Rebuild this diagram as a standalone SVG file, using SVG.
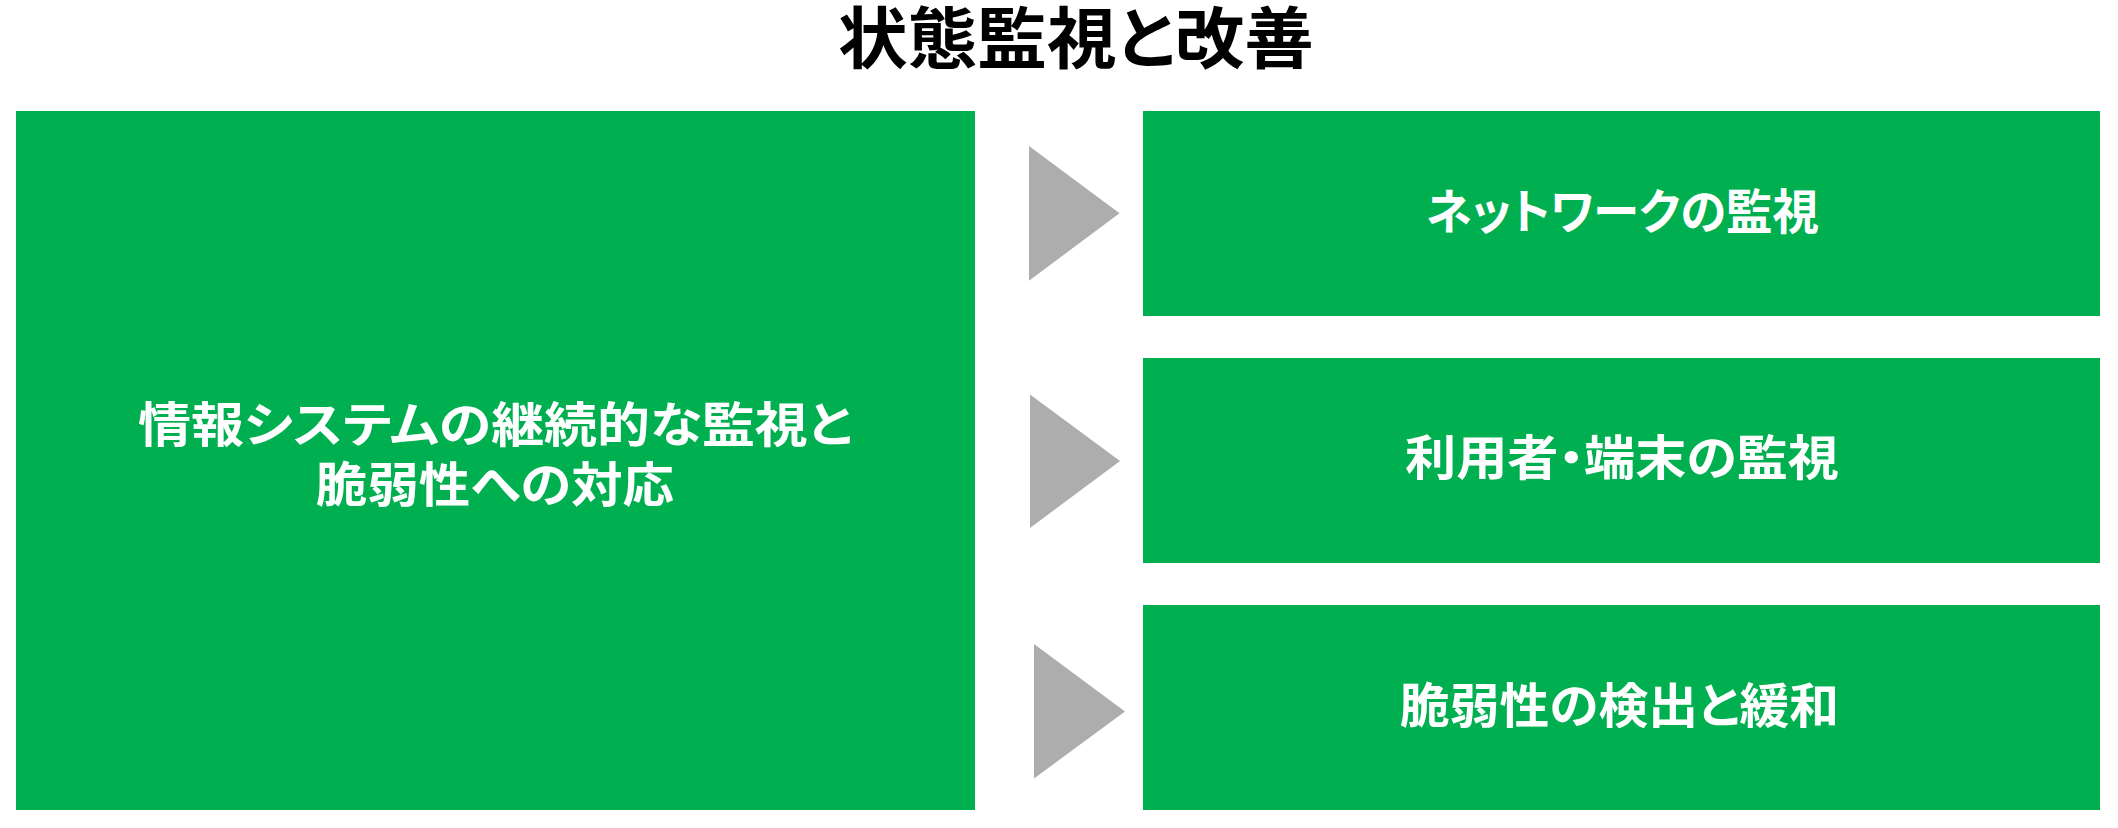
<svg xmlns="http://www.w3.org/2000/svg" width="2118" height="828" viewBox="0 0 2118 828">
<style>
.box{fill:#00B050}
.tri{fill:#ADADAD}
text{font-family:"Noto Sans CJK JP","Noto Sans",sans-serif;font-weight:bold;text-anchor:middle;font-feature-settings:"palt"}
.lbl{fill:#FFFFFF;font-size:48px}
.title{fill:#000000;font-size:67px}
</style>
<rect width="2118" height="828" fill="#FFFFFF"/>
<g id="title">
<text class="title" x="1076" y="63" textLength="476" lengthAdjust="spacingAndGlyphs">状態監視と改善</text>
</g>
<g id="main">
<rect class="box" x="16" y="111" width="959" height="699"/>
<text class="lbl" x="495" y="442" textLength="714" lengthAdjust="spacingAndGlyphs">情報システムの継続的な監視と</text>
<text class="lbl" x="495" y="502" textLength="358" lengthAdjust="spacingAndGlyphs">脆弱性への対応</text>
</g>
<g id="connectors">
<polygon class="tri" points="1029,146 1119.5,213.3 1029,280.7"/>
<polygon class="tri" points="1030,394.5 1120,461 1030,528"/>
<polygon class="tri" points="1034,644 1125,711.5 1034,778.5"/>
</g>
<g id="network">
<rect class="box" x="1143" y="111" width="957" height="205"/>
<text class="lbl" x="1622.5" y="229" textLength="393" lengthAdjust="spacingAndGlyphs">ネットワークの監視</text>
</g>
<g id="users">
<rect class="box" x="1143" y="358" width="957" height="205"/>
<text class="lbl" x="1622" y="475" textLength="434" lengthAdjust="spacingAndGlyphs">利用者・端末の監視</text>
</g>
<g id="vuln">
<rect class="box" x="1143" y="605" width="957" height="205"/>
<text class="lbl" x="1619.5" y="723" textLength="439" lengthAdjust="spacingAndGlyphs">脆弱性の検出と緩和</text>
</g>
</svg>
